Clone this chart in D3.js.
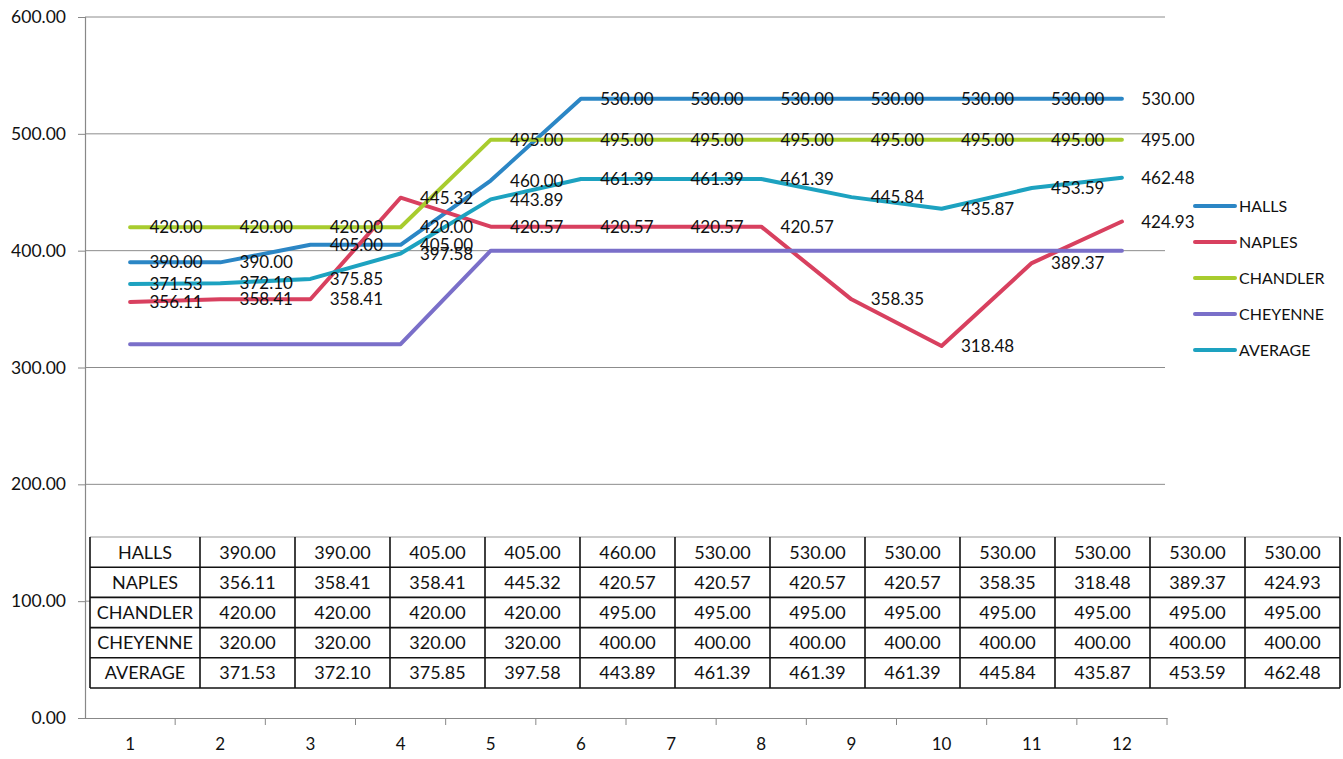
<!DOCTYPE html>
<html>
<head>
<meta charset="utf-8">
<script src="https://cdn.jsdelivr.net/npm/d3@7"></script>
<style>
  html, body { margin: 0; padding: 0; background: #ffffff; }
  svg { display: block; font-family: Lato, "Open Sans", sans-serif; }
</style>
</head>
<body>
<svg id="chart" width="1343" height="759"></svg>
<script>
const categories = ["1","2","3","4","5","6","7","8","9","10","11","12"];
const seriesNames = ["HALLS","NAPLES","CHANDLER","CHEYENNE","AVERAGE"];
const halls    = [390.00,390.00,405.00,405.00,460.00,530.00,530.00,530.00,530.00,530.00,530.00,530.00];
const naples   = [356.11,358.41,358.41,445.32,420.57,420.57,420.57,420.57,358.35,318.48,389.37,424.93];
const chandler = [420.00,420.00,420.00,420.00,495.00,495.00,495.00,495.00,495.00,495.00,495.00,495.00];
const cheyenne = [320.00,320.00,320.00,320.00,400.00,400.00,400.00,400.00,400.00,400.00,400.00,400.00];
const average  = [371.53,372.10,375.85,397.58,443.89,461.39,461.39,461.39,445.84,435.87,453.59,462.48];
const yTicks   = [0,100,200,300,400,500,600];
const colors   = ["#2b86c5","#d8405f","#a8cc2e","#7a6fc9","#1da2c0"];
const showLabels = [true,true,true,false,true];

const seriesValues = [halls, naples, chandler, cheyenne, average];
const series = seriesNames.map((n,i) => ({name:n, values:seriesValues[i], color:colors[i], labels:showLabels[i]}));

const svg = d3.select("#chart");
const x = d3.scaleBand().domain(categories).range([85,1167]).padding(0);
const y = d3.scaleLinear().domain([0,600]).range([718,17]);
const cx = c => x(c) + x.bandwidth()/2;

// gridlines
svg.append("g").selectAll("line").data(yTicks.filter(t=>t>0)).join("line")
  .attr("x1",85).attr("x2",1165)
  .attr("y1",d=>y(d)).attr("y2",d=>y(d))
  .attr("stroke","#8c8c8c").attr("stroke-width",1);

// y axis
const yAxis = d3.axisLeft(y).tickValues(yTicks).tickFormat(d3.format(".2f")).tickSize(7).tickPadding(12);
const gy = svg.append("g").attr("transform","translate(85,0)").call(yAxis);
gy.select(".domain").attr("stroke","#888").attr("stroke-width",1.2);
gy.selectAll(".tick line").attr("stroke","#888");
gy.selectAll(".tick text").attr("font-size","17.5px").attr("fill","#111").attr("font-family","Lato, sans-serif");

// x axis
const xAxis = d3.axisBottom(x).tickSize(0).tickPadding(20);
const gx = svg.append("g").attr("transform","translate(0,718)").call(xAxis);
gx.select(".domain").attr("stroke","#888").attr("stroke-width",1.2);
gx.selectAll(".tick text").attr("font-size","17px").attr("fill","#111").attr("font-family","Lato, sans-serif");
// boundary tick marks
svg.append("g").selectAll("line").data(categories).join("line")
  .attr("x1",d=>x(d)+x.bandwidth()).attr("x2",d=>x(d)+x.bandwidth())
  .attr("y1",718).attr("y2",725).attr("stroke","#888");

// lines
const line = d3.line().x((d,i)=>cx(categories[i])).y(d=>y(d));
svg.append("g").selectAll("path").data(series).join("path")
  .attr("d",d=>line(d.values))
  .attr("fill","none").attr("stroke",d=>d.color)
  .attr("stroke-width",4).attr("stroke-linejoin","round").attr("stroke-linecap","round");

// data labels
const lg = svg.append("g");
series.filter(s=>s.labels).forEach(s=>{
  lg.selectAll(null).data(s.values).join("text")
    .attr("x",(d,i)=>cx(categories[i])+46)
    .attr("y",d=>y(d))
    .attr("dy","0.36em")
    .attr("text-anchor","middle")
    .attr("font-size","17px").attr("fill","#111")
    .text(d=>d3.format(".2f")(d));
});

// legend
const leg = svg.append("g").selectAll("g").data(series).join("g")
  .attr("transform",(d,i)=>`translate(1195,${206+i*36})`);
leg.append("line").attr("x1",0).attr("x2",40).attr("y1",0).attr("y2",0)
  .attr("stroke",d=>d.color).attr("stroke-width",4).attr("stroke-linecap","round");
leg.append("text").attr("x",44).attr("dy","0.36em").attr("font-size","16px").attr("fill","#111").text(d=>d.name);

// data table
const tLeft = 90, tLabelRight = 200, tRight = 1340, tTop = 537, tBottom = 688;
const tx = d3.scaleBand().domain(categories).range([tLabelRight,tRight]);
const ty = d3.scaleBand().domain(seriesNames).range([tTop,tBottom]);
const tg = svg.append("g");
tg.append("rect").attr("x",tLeft).attr("y",tTop).attr("width",tRight-tLeft).attr("height",tBottom-tTop).attr("fill","#fff");
// horizontal lines
tg.selectAll("line.h").data(seriesNames.concat(["__end"])).join("line")
  .attr("x1",tLeft).attr("x2",tRight)
  .attr("y1",(d,i)=> i<seriesNames.length ? ty(d) : tBottom)
  .attr("y2",(d,i)=> i<seriesNames.length ? ty(d) : tBottom)
  .attr("stroke",(d,i)=> i===0 ? "#999" : "#111").attr("stroke-width",(d,i)=>i===0?1:1.6);
// vertical lines
const vx = [tLeft, tLabelRight].concat(categories.map(c=>tx(c)+tx.bandwidth()));
tg.selectAll("line.v").data(vx).join("line")
  .attr("x1",d=>d).attr("x2",d=>d).attr("y1",tTop).attr("y2",tBottom)
  .attr("stroke","#111").attr("stroke-width",1.6);
// row labels
tg.selectAll("text.rl").data(seriesNames).join("text")
  .attr("x",(tLeft+tLabelRight)/2).attr("y",d=>ty(d)+ty.bandwidth()/2).attr("dy","0.36em")
  .attr("text-anchor","middle").attr("font-size","18px").attr("fill","#111").text(d=>d);
// cells
series.forEach(s=>{
  tg.selectAll(null).data(s.values).join("text")
    .attr("x",(d,i)=>tx(categories[i])+tx.bandwidth()/2)
    .attr("y",ty(s.name)+ty.bandwidth()/2).attr("dy","0.36em")
    .attr("text-anchor","middle").attr("font-size","18px").attr("fill","#111")
    .text(d=>d3.format(".2f")(d));
});
</script>
</body>
</html>
